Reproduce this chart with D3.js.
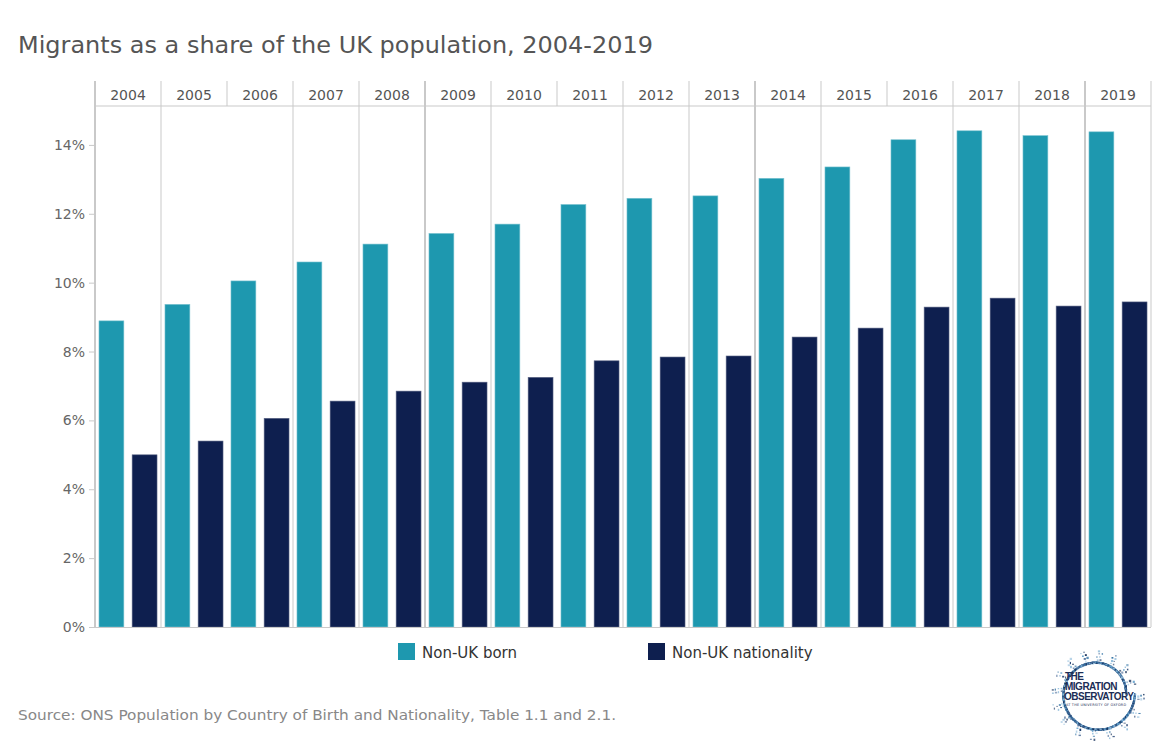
<!DOCTYPE html>
<html>
<head>
<meta charset="utf-8">
<script src="https://cdn.jsdelivr.net/npm/d3@7/dist/d3.min.js"></script>
<style>
  html, body { margin: 0; padding: 0; background: #fff; }
  svg { display: block; font-family: "DejaVu Sans", Verdana, sans-serif; }
</style>
</head>
<body>
<svg id="chart" width="1166" height="749"></svg>
<script>
// ---- Data ----
const years = ["2004","2005","2006","2007","2008","2009","2010","2011","2012","2013","2014","2015","2016","2017","2018","2019"];
const seriesNames = ["Non-UK born", "Non-UK nationality"];
const nonUkBorn = [8.89, 9.37, 10.05, 10.60, 11.12, 11.43, 11.70, 12.27, 12.45, 12.52, 13.03, 13.36, 14.15, 14.41, 14.27, 14.38];
const nonUkNationality = [5.00, 5.40, 6.06, 6.56, 6.85, 7.11, 7.25, 7.73, 7.84, 7.87, 8.42, 8.68, 9.29, 9.55, 9.32, 9.44];
const yTicks = [0, 2, 4, 6, 8, 10, 12, 14];
const titleText = "Migrants as a share of the UK population, 2004-2019";
const sourceText = "Source: ONS Population by Country of Birth and Nationality, Table 1.1 and 2.1.";

const colors = { "Non-UK born": "#1e98af", "Non-UK nationality": "#0e1f4f" };

const svg = d3.select("#chart");
const left = 95, right = 1151, headerTop = 81, headerBottom = 106, bottom = 627;

const x = d3.scaleBand().domain(years).range([left, right]).padding(0);
const xi = d3.scaleBand().domain(seriesNames).range([0, x.bandwidth()]).paddingInner(0.25).paddingOuter(0.12);
const y = d3.scaleLinear().domain([0, 15.13]).range([bottom, headerBottom]);

// Title
svg.append("text").attr("x", 18).attr("y", 53)
  .attr("font-size", 23).attr("fill", "#555")
  .attr("textLength", 635).attr("lengthAdjust", "spacingAndGlyphs")
  .text(titleText);

// Bars
const rows = years.map((yr, i) => ({ year: yr, values: [
  { key: seriesNames[0], v: nonUkBorn[i] },
  { key: seriesNames[1], v: nonUkNationality[i] }
]}));

const g = svg.append("g");
const yearG = g.selectAll("g.year").data(rows).join("g")
  .attr("transform", d => `translate(${x(d.year)},0)`);
yearG.selectAll("rect").data(d => d.values).join("rect")
  .attr("x", d => xi(d.key))
  .attr("width", xi.bandwidth())
  .attr("y", d => y(d.v))
  .attr("height", d => y(0) - y(d.v))
  .attr("fill", d => colors[d.key])
  .attr("stroke", d => d.key === seriesNames[0] ? "#7cc3d1" : "#5a6485")
  .attr("stroke-width", 0.6);

// Panel separators
const boundaries = years.map(yr => x(yr)).concat([right]);
boundaries.forEach((bx, i) => {
  const thick = (i === 0 || i === 5 || i === 10 || i === 15);
  const missingBelow = (i === 2 || i === 7 || i === 12);
  svg.append("line")
    .attr("x1", bx).attr("x2", bx)
    .attr("y1", headerTop).attr("y2", missingBelow ? headerBottom : bottom)
    .attr("stroke", "#c9c9c9").attr("stroke-width", thick ? 2 : 1);
});

// Header bottom line
svg.append("line").attr("x1", left).attr("x2", right)
  .attr("y1", headerBottom).attr("y2", headerBottom)
  .attr("stroke", "#c9c9c9").attr("stroke-width", 1);

// Year header labels
svg.append("g").selectAll("text").data(years).join("text")
  .attr("x", d => x(d) + x.bandwidth() / 2)
  .attr("y", 100)
  .attr("text-anchor", "middle")
  .attr("font-size", 14).attr("fill", "#555")
  .text(d => d);

// Y axis
const yAxis = d3.axisLeft(y).tickValues(yTicks).tickSize(6).tickPadding(4)
  .tickFormat(d => d + "%");
const ya = svg.append("g").attr("transform", `translate(${left},0)`).call(yAxis);
ya.select(".domain").remove();
ya.selectAll(".tick line").attr("stroke", "#c9c9c9");
ya.selectAll(".tick text").attr("font-size", 14).attr("fill", "#666")
  .attr("font-family", "DejaVu Sans, Verdana, sans-serif");

// Baseline
svg.append("line").attr("x1", left - 6).attr("x2", right)
  .attr("y1", bottom + 0.5).attr("y2", bottom + 0.5)
  .attr("stroke", "#c9c9c9").attr("stroke-width", 1);

// Legend
const legendPos = [398, 648];
seriesNames.forEach((s, i) => {
  svg.append("rect").attr("x", legendPos[i]).attr("y", 643)
    .attr("width", 17).attr("height", 17).attr("fill", colors[s]);
  svg.append("text").attr("x", legendPos[i] + 24).attr("y", 658)
    .attr("font-size", 15).attr("fill", "#333").text(s);
});

// Source
svg.append("text").attr("x", 18).attr("y", 720)
  .attr("font-size", 14).attr("fill", "#888")
  .attr("textLength", 598).attr("lengthAdjust", "spacingAndGlyphs")
  .text(sourceText);

// Logo (decorative ring of dots, deterministic pattern)
const logo = svg.append("g").attr("transform", "translate(1096,693)");
const logoColors = ["#1b3a6b", "#2c6fa3", "#5b9bc8", "#9cc3df", "#0e2a55", "#7aaed4", "#3d5f8f"];
for (let k = 0; k < 1100; k++) {
  const a = k * 2.39996323;
  const t = ((k * 0.618034) % 1);
  const spread = (k % 9 === 0) ? 12 * ((k * 0.29) % 1) : 0;
  const r = 29 + t * 9 + spread;
  logo.append("rect")
    .attr("x", Math.cos(a) * r)
    .attr("y", Math.sin(a) * r)
    .attr("width", 1 + ((k * 0.37) % 1) * 1.4)
    .attr("height", 1 + ((k * 0.53) % 1) * 1.4)
    .attr("fill", logoColors[k % logoColors.length])
    .attr("opacity", 0.5 + ((k * 0.13) % 1) * 0.5);
}
const logoText = [["THE", -31, -13], ["MIGRATION", -31, -3], ["OBSERVATORY", -32, 7]];
logoText.forEach(([t, lx, ly]) => {
  logo.append("text").attr("x", lx).attr("y", ly).attr("font-size", 10)
    .attr("fill", "#1b2d55").attr("font-weight", "bold")
    .attr("font-family", "Liberation Sans Narrow, Arial Narrow, sans-serif")
    .attr("letter-spacing", -0.5).text(t);
});
logo.append("text").attr("x", -30).attr("y", 12.5).attr("font-size", 3.4)
  .attr("fill", "#1b2d55").attr("textLength", 60).text("AT THE UNIVERSITY OF OXFORD");
</script>
</body>
</html>
